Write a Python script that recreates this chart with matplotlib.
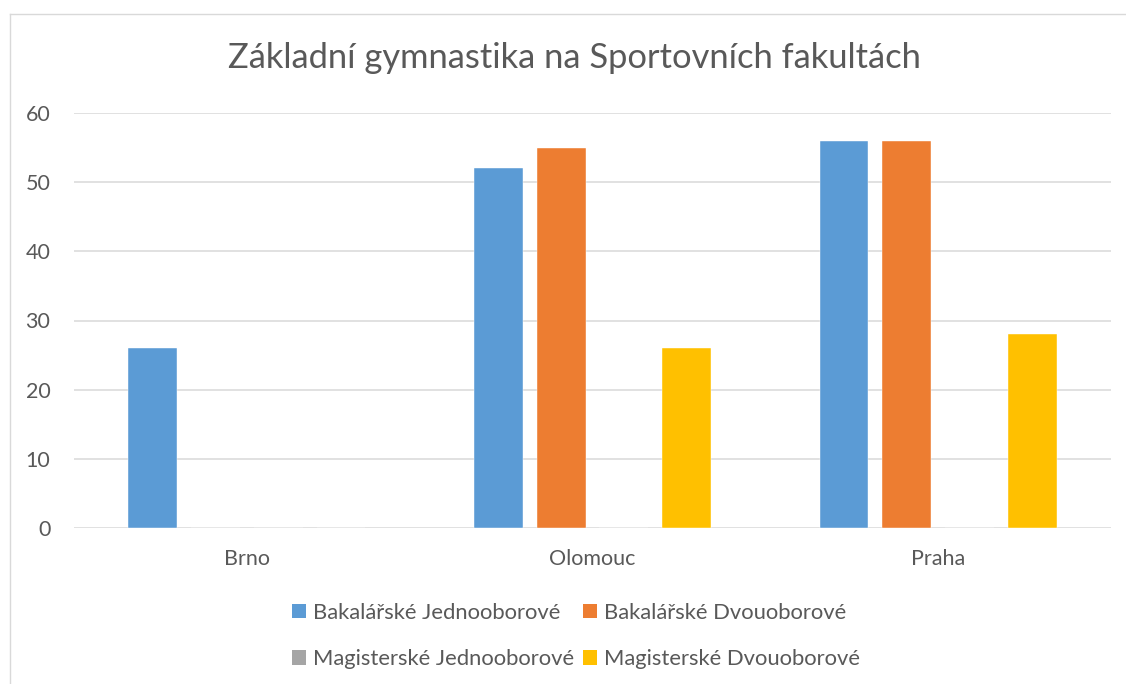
import matplotlib
matplotlib.use("Agg")
import matplotlib.pyplot as plt
from matplotlib.patches import Patch
from matplotlib.lines import Line2D
import numpy as np

categories = ["Brno", "Olomouc", "Praha"]
series_names = ["Bakalářské Jednooborové", "Bakalářské Dvouoborové",
                "Magisterské Jednooborové", "Magisterské Dvouoborové"]
bak_jedno = [26, 52, 56]
bak_dvou = [0, 55, 56]
mag_jedno = [0, 0, 0]
mag_dvou = [0, 26, 28]
colors = ["#5B9BD5", "#ED7D31", "#A5A5A5", "#FFC000"]
title = "Základní gymnastika na Sportovních fakultách"

plt.rcParams['font.family'] = ['Lato', 'DejaVu Sans']
txt = "#595959"

fig = plt.figure(figsize=(11.26, 6.84), dpi=100)
ax = fig.add_axes([74/1126, 1-528/684, (1111-74)/1126, (528-113)/684])

x = np.arange(len(categories))
width = 0.1417
step = 0.1816
values = [bak_jedno, bak_dvou, mag_jedno, mag_dvou]
for i, (vals, c) in enumerate(zip(values, colors)):
    ax.bar(x + (i - 1.5) * step, vals, width, color=c, zorder=3,
           edgecolor='white', linewidth=0.3)

ax.set_xlim(-0.5, 2.5)
ax.set_ylim(0, 60)
ax.set_yticks(range(0, 61, 10))
ax.set_xticks(x)
ax.set_xticklabels(categories)
ax.grid(axis='y', color='#D9D9D9', linewidth=1.1, zorder=0)
for s in ax.spines.values():
    s.set_visible(False)
ax.tick_params(axis='both', length=0, labelsize=15.5, colors=txt)
ax.tick_params(axis='y', pad=17)
ax.tick_params(axis='x', pad=15)

fig.text(574/1126, 1-58/684, title, ha='center', va='center', fontsize=24.8, color=txt)

order = [0, 2, 1, 3]
handles = [Patch(facecolor=colors[i], edgecolor='none') for i in order]
labels = [series_names[i] for i in order]
leg = fig.legend(handles, labels, loc='center', ncol=2,
                 bbox_to_anchor=(576/1126, 1-636/684), frameon=False,
                 fontsize=15.8, labelcolor=txt, handlelength=0.65, handleheight=0.65,
                 handletextpad=0.3, columnspacing=0.4, labelspacing=1.2)

# chart frame
fig.add_artist(Line2D([10/1126, 10/1126], [0, 1-14/684], transform=fig.transFigure,
                      color='#D9D9D9', linewidth=1))
fig.add_artist(Line2D([10/1126, 1], [1-14/684, 1-14/684], transform=fig.transFigure,
                      color='#D9D9D9', linewidth=1))

fig.savefig("out.png", dpi=100)
